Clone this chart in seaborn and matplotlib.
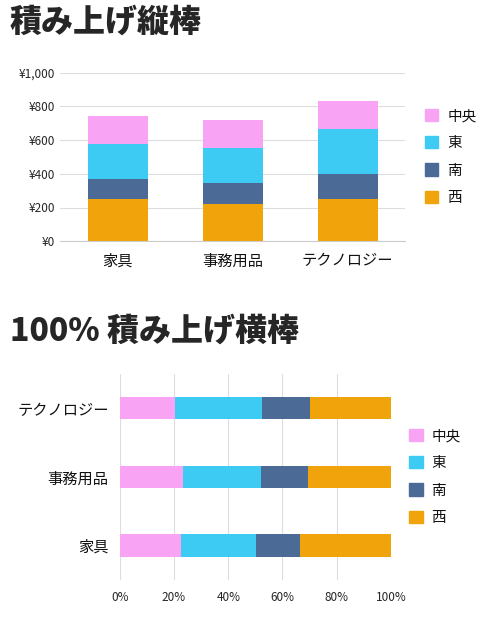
import numpy as np
import pandas as pd
import seaborn as sns
import matplotlib.pyplot as plt
from matplotlib.patches import Patch
from matplotlib.ticker import FuncFormatter

categories = ['家具', '事務用品', 'テクノロジー']
regions = ['西', '南', '東', '中央']
west = [248, 219, 248]
south = [119, 124, 148]
east = [207, 207, 267]
central = [166, 166, 171]
colors = {'西': '#F0A30A', '南': '#4C6A96', '東': '#3DCBF4', '中央': '#F9A3F5'}

sns.set_style('white')
plt.rcParams['font.family'] = ['Noto Sans CJK JP', 'DejaVu Sans']

df = pd.DataFrame({'category': categories, '西': west, '南': south, '東': east, '中央': central})
cum = df[regions].cumsum(axis=1)
cum['category'] = categories

# horizontal: 中央 starts on the left
regions_h = ['中央', '東', '南', '西']
cum_h = df[regions_h].cumsum(axis=1)
pct = cum_h.div(cum_h['西'], axis=0) * 100
pct['category'] = categories

fig = plt.figure(figsize=(4.93, 6.25), dpi=100)
ax1 = fig.add_axes([0.122, 0.614, 0.70, 0.27])
ax2 = fig.add_axes([0.243, 0.072, 0.55, 0.33])

# stacked columns: draw tallest first
for r in regions[::-1]:
    sns.barplot(data=cum, x='category', y=r, color=colors[r], width=0.52,
                saturation=1, ax=ax1, order=categories, linewidth=0)
ax1.set_ylim(0, 1000)
ax1.set_yticks(range(0, 1001, 200))
ax1.yaxis.set_major_formatter(FuncFormatter(lambda v, p: f'¥{int(v):,}'))
ax1.grid(axis='y', color='#dddddd', lw=0.8)
ax1.set_axisbelow(True)
sns.despine(ax=ax1, left=True, top=True, right=True)
ax1.spines['bottom'].set_color('#cccccc')
ax1.set_xlabel('')
ax1.set_ylabel('')
ax1.tick_params(axis='x', labelsize=11, length=0, pad=8, labelcolor='#111111')
ax1.tick_params(axis='y', labelsize=8.5, length=0)

# 100% stacked horizontal bars
order2 = categories[::-1]
for r in regions_h[::-1]:
    sns.barplot(data=pct, y='category', x=r, color=colors[r], width=0.33,
                saturation=1, ax=ax2, order=order2, orient='h', linewidth=0)
ax2.set_xlim(0, 100)
ax2.set_xticks(range(0, 101, 20))
ax2.xaxis.set_major_formatter(FuncFormatter(lambda v, p: f'{int(v)}%'))
ax2.grid(axis='x', color='#dddddd', lw=0.8)
ax2.set_axisbelow(True)
sns.despine(ax=ax2, left=True, bottom=True, top=True, right=True)
ax2.set_xlabel('')
ax2.set_ylabel('')
ax2.tick_params(axis='y', labelsize=11, length=0, pad=8, labelcolor='#111111')
ax2.tick_params(axis='x', labelsize=8.5, length=0, pad=8)

handles = [Patch(color=colors[r], label=r) for r in ['中央', '東', '南', '西']]
for ax in (ax1, ax2):
    ax.legend(handles=handles, loc='center left', bbox_to_anchor=(1.02, 0.5),
              frameon=False, fontsize=10.5, handlelength=0.9, handleheight=0.9,
              labelspacing=0.9, handletextpad=0.6, labelcolor='#111111')

fig.text(0.02, 0.965, '積み上げ縦棒', fontsize=23, fontweight='black', va='center')
fig.text(0.02, 0.47, '100% 積み上げ横棒', fontsize=23, fontweight='black', va='center')

fig.savefig('out.png', dpi=100)
